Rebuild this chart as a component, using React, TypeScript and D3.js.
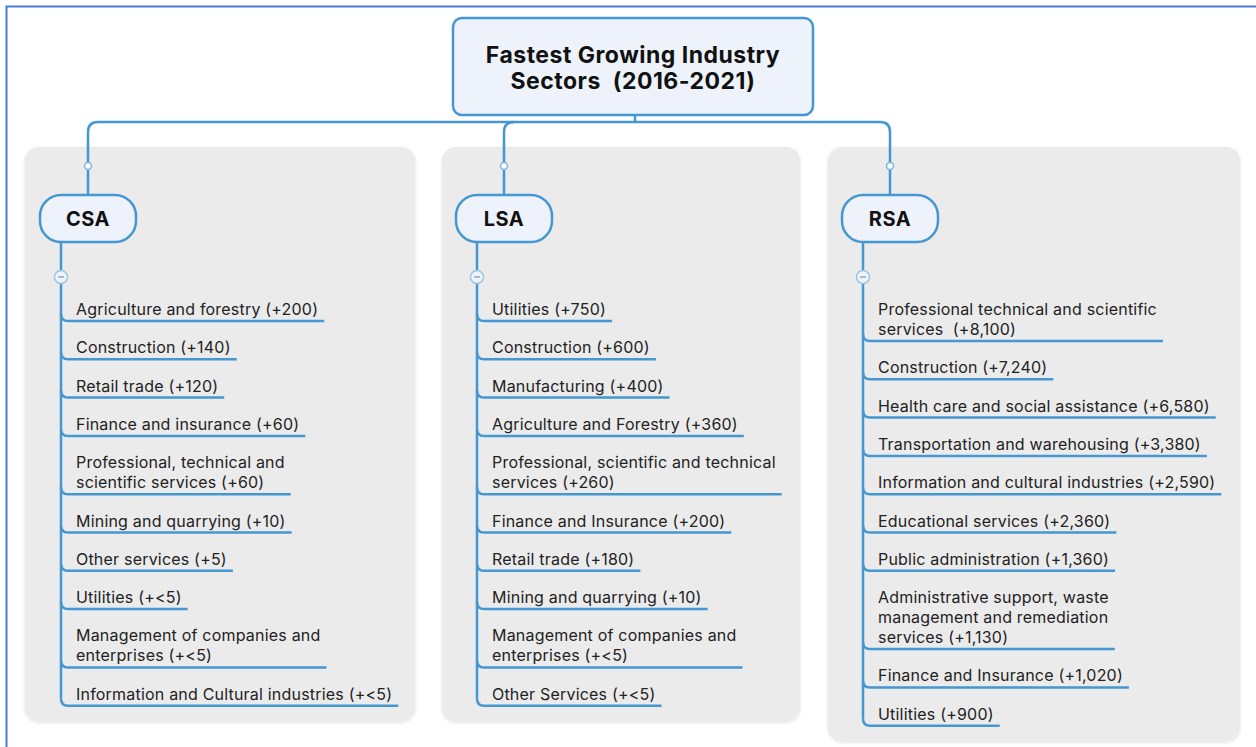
import { useEffect, useRef } from 'react';
import * as d3 from 'd3';

const titleLines = ['Fastest Growing Industry', 'Sectors  (2016-2021)'];
const regions = ['CSA', 'LSA', 'RSA'];

const csaSectors = [
  'Agriculture and forestry (+200)',
  'Construction (+140)',
  'Retail trade (+120)',
  'Finance and insurance (+60)',
  'Professional, technical and\nscientific services (+60)',
  'Mining and quarrying (+10)',
  'Other services (+5)',
  'Utilities (+<5)',
  'Management of companies and\nenterprises (+<5)',
  'Information and Cultural industries (+<5)',
];

const lsaSectors = [
  'Utilities (+750)',
  'Construction (+600)',
  'Manufacturing (+400)',
  'Agriculture and Forestry (+360)',
  'Professional, scientific and technical\nservices (+260)',
  'Finance and Insurance (+200)',
  'Retail trade (+180)',
  'Mining and quarrying (+10)',
  'Management of companies and\nenterprises (+<5)',
  'Other Services (+<5)',
];

const rsaSectors = [
  'Professional technical and scientific\nservices  (+8,100)',
  'Construction (+7,240)',
  'Health care and social assistance (+6,580)',
  'Transportation and warehousing (+3,380)',
  'Information and cultural industries (+2,590)',
  'Educational services (+2,360)',
  'Public administration (+1,360)',
  'Administrative support, waste\nmanagement and remediation\nservices (+1,130)',
  'Finance and Insurance (+1,020)',
  'Utilities (+900)',
];

const sectorsByRegion = [csaSectors, lsaSectors, rsaSectors];

const W = 1256;
const H = 747;
const BLUE = '#4597d1';
const FONT = 'Inter, "Noto Sans", sans-serif';
const panelLeft = [25, 442, 828];
const panelRight = [415, 800, 1240];
const nodeCenter = [88, 504, 890];

const MindMap = () => {
  const ref = useRef<SVGSVGElement>(null);

  useEffect(() => {
    const svg = d3.select(ref.current);
    svg.selectAll('*').remove();

    const defs = svg.append('defs');
    const f = defs.append('filter').attr('id', 'sh').attr('x', '-5%').attr('y', '-5%').attr('width', '110%').attr('height', '110%');
    f.append('feDropShadow').attr('dx', 0).attr('dy', 1).attr('stdDeviation', 1.5).attr('flood-color', '#000').attr('flood-opacity', 0.12);

    svg.append('rect').attr('width', W).attr('height', H).attr('fill', '#fff');

    // outer frame
    svg.append('rect')
      .attr('x', 6.5).attr('y', 6.5).attr('width', 1400).attr('height', 900)
      .attr('fill', 'none').attr('stroke', '#4a7bd6').attr('stroke-width', 2);

    // layout of items: underline positions
    const layouts = sectorsByRegion.map((items) => {
      let y = 282.7;
      return items.map((s) => {
        const lines = s.split('\n');
        y += 38.3 + 20 * (lines.length - 1);
        return { lines, u: y };
      });
    });

    // panels
    regions.forEach((_, i) => {
      const last = layouts[i][layouts[i].length - 1].u;
      svg.append('rect')
        .attr('x', panelLeft[i]).attr('y', 147)
        .attr('width', panelRight[i] - panelLeft[i]).attr('height', last + 16 - 147)
        .attr('rx', 14).attr('fill', '#ebebeb').attr('filter', 'url(#sh)');
    });

    // connectors from title
    const conn = svg.append('g').attr('fill', 'none').attr('stroke', BLUE).attr('stroke-width', 2.5);
    const r = 10;
    const [c0, c1, c2] = nodeCenter;
    conn.append('path').attr('d', `M635,115V122`);
    conn.append('path').attr('d', `M${c0},196V${122 + r}Q${c0},122 ${c0 + r},122H${c2 - r}Q${c2},122 ${c2},${122 + r}V196`);
    conn.append('path').attr('d', `M${c1 + r},122Q${c1},122 ${c1},${122 + r}V196`);

    // title box
    svg.append('rect')
      .attr('x', 453).attr('y', 18).attr('width', 360).attr('height', 97).attr('rx', 9)
      .attr('fill', '#eef3fb').attr('stroke', BLUE).attr('stroke-width', 2.5);
    svg.append('g').selectAll('text').data(titleLines).join('text')
      .attr('x', 633).attr('y', (_, j) => 63 + j * 26)
      .attr('text-anchor', 'middle').attr('font-family', FONT).attr('font-weight', 700)
      .attr('font-size', 23).attr('letter-spacing', 0.5).attr('fill', '#111').style('white-space', 'pre')
      .text((d) => d);

    regions.forEach((name, i) => {
      const cx = nodeCenter[i];
      const vx = cx - 27;
      const g = svg.append('g');

      // small joint circle
      g.append('circle').attr('cx', cx).attr('cy', 166).attr('r', 3.5)
        .attr('fill', '#fff').attr('stroke', '#7db4de').attr('stroke-width', 1.5);

      // vertical spine
      const items = layouts[i];
      const last = items[items.length - 1].u;
      const rr = 7;
      g.append('path').attr('d', `M${vx},242V${last - rr}`)
        .attr('fill', 'none').attr('stroke', BLUE).attr('stroke-width', 2.5);

      // region node
      g.append('rect').attr('x', cx - 48).attr('y', 195).attr('width', 96).attr('height', 47).attr('rx', 21)
        .attr('fill', '#eef3fb').attr('stroke', BLUE).attr('stroke-width', 2.5);
      g.append('text').attr('x', cx).attr('y', 226).attr('text-anchor', 'middle')
        .attr('font-family', FONT).attr('font-weight', 700).attr('font-size', 20).attr('letter-spacing', 0.5)
        .attr('fill', '#111')
        .text(name);

      // collapse button
      g.append('circle').attr('cx', vx).attr('cy', 277).attr('r', 6.5)
        .attr('fill', '#eef4fb').attr('stroke', '#9cc4e6').attr('stroke-width', 1.5);
      g.append('line').attr('x1', vx - 3).attr('x2', vx + 3).attr('y1', 277).attr('y2', 277)
        .attr('stroke', '#9aa7b4').attr('stroke-width', 1.5);

      // items
      items.forEach((it) => {
        const n = it.lines.length;
        const t = g.append('g');
        let maxW = 0;
        it.lines.forEach((ln, j) => {
          const tx = t.append('text')
            .attr('x', vx + 15).attr('y', it.u - 6 - 20 * (n - 1 - j))
            .attr('font-family', FONT).attr('font-size', 16).attr('letter-spacing', 0.2).attr('fill', '#222')
            .style('white-space', 'pre').text(ln);
          const node = tx.node() as SVGTextElement;
          maxW = Math.max(maxW, node.getComputedTextLength());
        });
        const end = vx + 15 + maxW + 6;
        g.append('path')
          .attr('d', `M${vx},${it.u - rr}Q${vx},${it.u} ${vx + rr},${it.u}H${end}`)
          .attr('fill', 'none').attr('stroke', BLUE).attr('stroke-width', 2.5);
      });
    });
  }, []);

  return <svg ref={ref} width={W} height={H} style={{ position: 'absolute', left: 0, top: 0, display: 'block' }} />;
};

export default function App() {
  return (
    <div>
      <MindMap />
    </div>
  );
}
